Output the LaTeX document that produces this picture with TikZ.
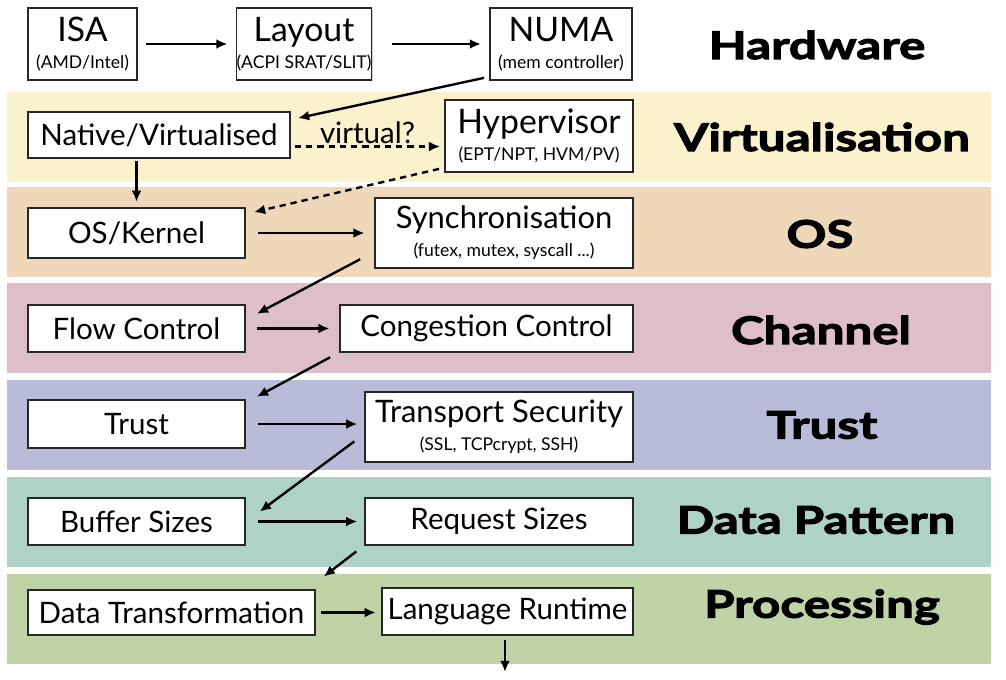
\documentclass[tikz,border=0pt]{standalone}
\usepackage{fontspec}
\setmainfont{Lato}
\newfontfamily\heavyfont[BoldFeatures={FakeBold=3, FakeStretch=1.3}]{Lato}
\usetikzlibrary{shadows, arrows.meta}
\definecolor{bandvirt}{RGB}{249,242,204}
\definecolor{bandos}{RGB}{239,216,186}
\definecolor{bandchan}{RGB}{223,190,203}
\definecolor{bandtrust}{RGB}{185,188,216}
\definecolor{banddata}{RGB}{175,210,198}
\definecolor{bandproc}{RGB}{191,211,166}
\newcommand{\boxsub}[1]{{\fontsize{12.5}{13}\selectfont #1}}
\newcommand{\boxtitle}[1]{{\fontsize{24}{25}\selectfont #1}}
\newcommand{\boxmid}[1]{{\fontsize{22}{23}\selectfont #1}}

\begin{document}
\begin{tikzpicture}[x=0.025cm, y=-0.025cm, >={Latex[length=8pt, width=7pt]},
		layerbox/.style={draw=black!85, fill=white, line width=0.8pt, inner sep=0pt, align=center,
			font=\fontsize{21}{23}\selectfont,
			drop shadow={shadow xshift=1pt, shadow yshift=-1pt, fill=black!40, opacity=.5}},
		boxdim/.style 2 args={minimum width=#1*0.025cm, minimum height=#2*0.025cm},
		layername/.style={font=\heavyfont\bfseries\fontsize{27}{29}\selectfont},
		arr/.style={->, line width=1.7pt, shorten >=1pt, shorten <=1pt},
		dashline/.style={dash pattern=on 4.5pt off 3.5pt}]
				% Bildbereich
				\useasboundingbox (0,0) rectangle (1006,679);
				% Baender
				\foreach \top/\col in {92/bandvirt, 187/bandos, 283/bandchan, 380/bandtrust, 477/banddata, 574/bandproc}
					\fill[\col] (7,\top) rectangle (991,\top+90);
				% Kaesten
				\node[layerbox, boxdim={109}{72}] (isa) at (82.5,44) {\boxtitle{ISA}\\[-4pt]\boxsub{(AMD/Intel)}};
				\node[layerbox, boxdim={132}{72}] (layout) at (304,44) {\boxtitle{Layout}\\[-4pt]\boxsub{(ACPI SRAT/SLIT)}};
				\node[layerbox, boxdim={142}{72}] (numa) at (561,44) {\boxtitle{NUMA}\\[-4pt]\boxsub{(mem controller)}};
				\node[layerbox, boxdim={262}{46}] (native) at (159,135) {Native/Virtualised};
				\node[layerbox, boxdim={188}{72}] (hyper) at (539,136) {\boxtitle{Hypervisor}\\[-4pt]\boxsub{(EPT/NPT, HVM/PV)}};
				\node[layerbox, boxdim={217}{50}] (oskernel) at (136.5,233) {OS/Kernel};
				\node[layerbox, boxdim={258}{70}] (sync) at (504,233) {\boxmid{Synchronisation}\\[-3pt]\boxsub{(futex, mutex, syscall ...)}};
				\node[layerbox, boxdim={217}{47}] (flow) at (136.5,328.5) {Flow Control};
				\node[layerbox, boxdim={293}{47}] (cong) at (486.5,328.5) {Congestion Control};
				\node[layerbox, boxdim={217}{48}] (trust) at (136.5,424) {Trust};
				\node[layerbox, boxdim={268}{70}] (transport) at (499,427) {\boxmid{Transport Security}\\[-3pt]\boxsub{(SSL, TCPcrypt, SSH)}};
				\node[layerbox, boxdim={217}{47}] (buffer) at (136.5,521.5) {Buffer Sizes};
				\node[layerbox, boxdim={268}{47}] (request) at (499,521.5) {Request Sizes};
				\node[layerbox, boxdim={287}{45}] (datatrans) at (171.5,612.5) {Data Transformation};
				\node[layerbox, boxdim={251}{47}] (langrt) at (507.5,611.5) {Language Runtime};
				\coordinate (procout) at (505,672);
				% Schichtnamen
				\node[layername] (hwname) at (817,45) {Hardware};
				\node[layername] (virtname) at (822,137) {Virtualisation};
				\node[layername] (osname) at (820,234) {OS};
				\node[layername] (channame) at (821,330) {Channel};
				\node[layername] (trustname) at (822,425) {Trust};
				\node[layername] (dataname) at (816,520) {Data Pattern};
				\node[layername] (procname) at (822,607) {Processing};
				% Pfeile
				\draw[arr, shorten >=6pt, shorten <=6pt] (isa) -- (layout);
				\draw[arr, shorten >=6pt, shorten <=14pt] (layout) -- (numa);
				\draw[arr] ([shift={(-4,-3)}]numa.south west) -- ([shift={(6,7)}]native.north east);
				\draw[arr, dashline, shorten <=3pt, shorten >=3pt] (native.355) -- (native.355 -| hyper.west)
					node[midway, above=-2pt, font=\fontsize{21}{22}\selectfont] (virtq) {virtual?};
				\draw[arr, shorten <=2pt, shorten >=4pt] (native.south -| oskernel.north) -- (oskernel.north);
				\draw[arr, dashline] ([shift={(-4,-4)}]hyper.south west) -- ([shift={(7,5)}]oskernel.north east);
				\draw[arr, shorten <=9pt, shorten >=7pt] (oskernel) -- (oskernel -| sync.west);
				\draw[arr] ([shift={(-13,-10)}]sync.south west) -- ([shift={(10,10)}]flow.north east);
				\draw[arr, shorten <=8pt, shorten >=7pt] (flow) -- (flow -| cong.west);
				\draw[arr] ([shift={(-8,4)}]cong.south west) -- ([shift={(10,-2)}]trust.north east);
				\draw[arr, shorten <=9pt, shorten >=5pt] (trust) -- (trust -| transport.west);
				\draw[arr] ([shift={(-9,-22)}]transport.south west) -- ([shift={(13,15)}]buffer.north east);
				\draw[arr, shorten <=9pt, shorten >=5pt] (buffer) -- (buffer -| request.west);
				\draw[arr] ([shift={(-7,5)}]request.south west) -- ([shift={(7,-12)}]datatrans.north east);
				\draw[arr, shorten <=4pt, shorten >=4pt] (datatrans) -- (datatrans -| langrt.west);
				\draw[arr, shorten <=3pt, shorten >=0pt] (langrt.south -| procout) -- (procout);
\end{tikzpicture}
\end{document}
